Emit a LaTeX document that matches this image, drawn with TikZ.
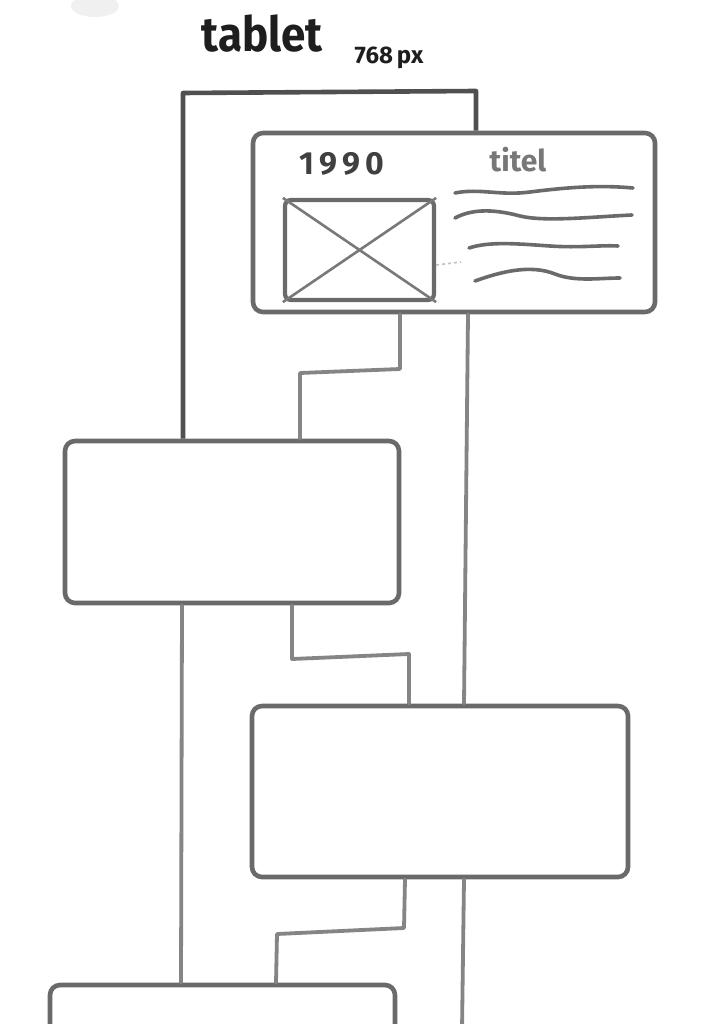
\documentclass[tikz,border=0pt]{standalone}
\usepackage{fontspec}
\setmainfont{Fira Sans}
\usetikzlibrary{calc}
\definecolor{boxgrey}{HTML}{6A6A6A}
\definecolor{linegrey}{HTML}{858585}
\definecolor{darkline}{HTML}{505050}
\definecolor{inkblack}{HTML}{1E1E1E}
\tikzset{
  sketchbox/.style={draw=boxgrey, line width=4.6pt, rounded corners=10pt, inner sep=0pt},
  conn/.style={draw=linegrey, line width=3.8pt, line join=round, line cap=round},
  bracket/.style={draw=darkline, line width=4.6pt, line join=round},
  wave/.style={draw=boxgrey, line width=3.6pt, line cap=round},
  lbl/.style={inner sep=0pt, anchor=center}
}
\begin{document}
\begin{tikzpicture}[x=1pt,y=-1pt]
\useasboundingbox (0,0) rectangle (724,1024);
\clip (0,0) rectangle (724,1024);
\fill[white] (0,0) rectangle (724,1024);
% scan smudge
\fill[gray!12] (95,6) ellipse (24 and 11);

% title
\node[lbl, text=inkblack, font=\fontsize{44}{44}\selectfont\bfseries, yscale=1.1] (title) at (262,34) {tablet};
\node[lbl, text=inkblack, font=\fontsize{24}{24}\selectfont\bfseries] (px) at (389,58) {768\,px};

% boxes
\node[sketchbox, minimum width=402pt, minimum height=179pt] (card) at (454,222.5) {};
\node[sketchbox, minimum width=334pt, minimum height=162pt] (b1) at (232,522) {};
\node[sketchbox, minimum width=376pt, minimum height=171pt] (b2) at (440,791.5) {};
\node[sketchbox, minimum width=345pt, minimum height=150pt] (b3) at (222.5,1060) {};

% card contents
\node[lbl, text=inkblack!85, font=\fontsize{32}{32}\selectfont\bfseries] (year) at (342,164) {1\,9\,9\,0};
\node[lbl, text=linegrey!90!black, font=\fontsize{30}{30}\selectfont\bfseries] (titel) at (518,160) {titel};
\node[draw=boxgrey, line width=4.2pt, rounded corners=6pt, inner sep=0pt,
      minimum width=149pt, minimum height=100pt] (img) at (359.5,250) {};
\draw[draw=boxgrey!90, line width=2.6pt] (img.north west) -- (img.south east);
\draw[draw=boxgrey!90, line width=2.6pt] (img.north east) -- (img.south west);
\draw[draw=linegrey!50, line width=1.6pt, dashed] (img.east |- 0,265) -- (461,262);

\coordinate (w1a) at (455,193); \coordinate (w1b) at (633,188);
\coordinate (w2a) at (455,218); \coordinate (w2b) at (632,215);
\coordinate (w3a) at (469,248); \coordinate (w3b) at (618,246);
\coordinate (w4a) at (475,281); \coordinate (w4b) at (620,278);
\draw[wave] (w1a) .. controls (480,188) and (500,196) .. (530,192)
            .. controls (570,187) and (600,185) .. (w1b);
\draw[wave] (w2a) .. controls (470,210) and (490,208) .. (520,216)
            .. controls (545,222) and (590,217) .. (w2b);
\draw[wave] (w3a) .. controls (490,241) and (520,244) .. (550,246)
            .. controls (580,248) and (600,245) .. (w3b);
\draw[wave] (w4a) .. controls (500,272) and (530,264) .. (555,274)
            .. controls (575,282) and (600,278) .. (w4b);

% top bracket
\coordinate (brL) at (183,93);
\coordinate (brR) at (476,91);
\draw[bracket] (183,0 |- b1.north) -- (brL) -- (brR) -- (476,0 |- card.north);

% connectors
\draw[conn] (400,0 |- card.south) -- (400,369) -- (300,373) -- (300,0 |- b1.north);
\draw[conn] (468,0 |- card.south) -- (464,0 |- b2.north);
\draw[conn] (182,0 |- b1.south) -- (181,0 |- b3.north);
\draw[conn] (292,0 |- b1.south) -- (292,659) -- (409,654) -- (409,0 |- b2.north);
\draw[conn] (405,0 |- b2.south) -- (404,928) -- (277,934) -- (276,0 |- b3.north);
\coordinate (bottomEnd) at (462,1030);
\draw[conn] (464,0 |- b2.south) -- (bottomEnd);
\end{tikzpicture}
\end{document}
